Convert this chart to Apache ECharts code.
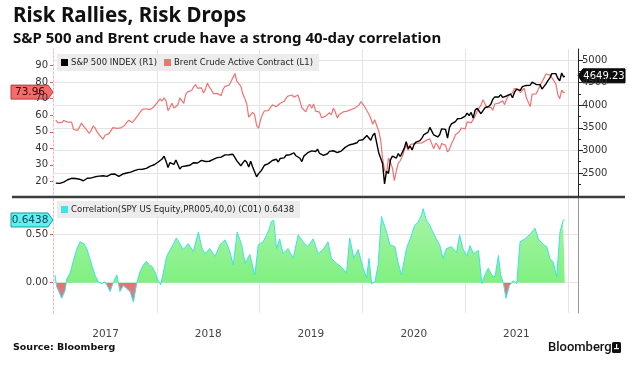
<!DOCTYPE html>
<html><head><meta charset="utf-8">
<script src="https://cdn.jsdelivr.net/npm/echarts@6/dist/echarts.min.js"></script>
<style>html,body{margin:0;padding:0;background:#fff}#c{width:638px;height:366px}</style>
</head><body><div id="c"></div>
<script>
// ---- Data (weekly closes, Fridays from 2017-01-06, last point 2021-12-21) ----
const spxName = 'S&P 500 INDEX (R1)';
const brentName = 'Brent Crude Active Contract (L1)';
const corrName = 'Correlation(SPY US Equity,PR005,40,0) (C01)';

const spx = [
 2277,2275,2271,2295, 2297,2316,2351,2367, 2383,2373,2378,2344,2363, 2355,2329,2349,2384, 2399,2391,2382,2416, 2439,2432,2433,2438,2423, 2425,2459,2472,2472, 2477,2441,2425,2443, 2477,2461,2500,2502,2519, 2549,2553,2575,2581, 2588,2582,2579,2602, 2642,2652,2675,2683,2674,
 2743,2786,2810,2873, 2762,2620,2732,2747, 2691,2786,2752,2588,2641, 2604,2656,2670,2670, 2663,2728,2713,2721, 2735,2779,2780,2755,2718, 2760,2801,2802,2819, 2840,2833,2850,2875,2902, 2872,2905,2930,2914, 2885,2767,2768,2659, 2723,2781,2736,2633,2760, 2633,2600,2417,2486,
 2532,2596,2671,2665, 2707,2708,2776,2793, 2804,2743,2822,2801,2834, 2893,2907,2905,2940, 2946,2881,2860,2826,2752, 2873,2887,2950,2942, 2990,3014,2977,3026, 2932,2919,2889,2847,2926, 2979,3007,2992,2962, 2953,2970,2986,3023, 3067,3093,3120,3110,3141, 3146,3169,3221,3240,
 3235,3265,3330,3295,3226, 3328,3380,3338,2954, 2972,2711,2260,2541, 2489,2790,2875,2837, 2831,2930,2864,2955,3044, 3194,3041,3098,3009, 3130,3185,3225,3216,3271, 3351,3373,3397,3508, 3427,3341,3319,3298, 3348,3477,3484,3465,3270, 3510,3585,3557,3638, 3699,3663,3709,3703,
 3756,3825,3768,3841,3714, 3887,3934,3907,3811, 3842,3943,3913,3975, 4020,4129,4185,4180,4181, 4233,4174,4156,4204, 4230,4247,4166,4281, 4352,4370,4327,4412,4395, 4437,4468,4442,4509, 4535,4459,4433,4455, 4357,4391,4471,4545,4605, 4698,4683,4698,4595, 4538,4712,4621,
 4649.23
];

const brent = [
 57.1,55.5,55.5,55.5, 56.8,56.7,55.8,56.0, 55.9,51.4,51.8,50.8,52.8, 55.2,55.9,52.0,51.7, 49.1,50.8,53.6,52.2, 49.9,48.2,47.4,45.5,47.9, 46.7,48.9,48.1,52.5, 52.4,52.1,52.7,52.4, 52.8,53.8,55.6,56.9,57.5, 55.6,57.2,57.8,60.4, 62.1,63.5,62.7,63.9, 63.7,63.4,63.2,65.3,66.9,
 67.6,69.9,68.6,70.5, 68.6,62.8,64.8,67.3, 64.4,65.5,66.2,70.5,70.3, 67.1,72.6,74.1,74.6, 74.9,77.1,78.5,76.4, 76.8,76.5,73.4,75.6,79.4, 77.1,75.3,73.1,74.3, 73.2,72.8,71.8,75.8,77.4, 76.8,78.1,78.8,82.7, 85.2,80.4,79.8,77.6, 72.8,70.2,66.8,58.8,58.7, 61.7,60.3,53.8,52.2,
 57.1,60.5,62.7,61.6, 62.8,62.1,66.3,67.1, 65.1,65.7,67.2,67.0,68.4, 70.3,71.6,71.9,72.2, 70.9,70.6,72.2,68.7,64.5, 63.3,62.0,65.2,66.6, 64.2,66.7,62.5,63.5, 61.9,58.5,58.6,59.3,60.4, 61.5,60.2,64.3,61.9, 58.4,60.5,59.4,62.0, 61.7,62.5,63.3,63.4,62.4, 64.4,65.2,66.1,68.2,
 68.6,65.0,64.9,60.7,58.2, 54.5,57.3,58.5,50.5, 45.3,33.9,27.0,24.9, 34.1,31.5,28.1,20.5, 26.4,31.0,32.5,35.1,35.3, 42.3,38.7,42.2,41.0, 42.8,43.2,43.1,43.3,43.3, 44.4,44.8,44.4,45.8, 42.7,39.8,43.2,41.9, 39.3,42.9,42.9,41.8,37.9, 39.5,42.8,45.0,48.2, 49.3,50.0,52.3,51.3,
 51.8,56.0,55.1,55.4,55.9, 59.3,62.4,62.9,66.1, 69.4,69.2,64.5,64.6, 64.9,63.0,66.8,66.1,67.3, 68.3,68.7,66.4,69.6, 71.9,72.7,73.5,76.2, 76.2,75.6,73.6,74.1,76.3, 70.7,70.6,65.2,72.7, 72.6,72.9,75.3,78.1, 79.3,82.4,84.9,85.5,84.4, 82.7,82.2,78.9,72.7, 69.9,75.2,73.5,
 73.96
];

const corrDates = [
 '2017-01-03','2017-01-09','2017-01-27','2017-02-08','2017-02-14','2017-02-26','2017-03-09','2017-03-21','2017-04-02','2017-04-08','2017-04-16','2017-04-26','2017-05-05','2017-05-14','2017-05-25','2017-06-06','2017-06-18','2017-06-30','2017-07-06','2017-07-18','2017-07-29','2017-08-11','2017-08-22','2017-09-03','2017-09-15','2017-09-27','2017-10-09','2017-10-21','2017-11-01','2017-11-13','2017-11-25','2017-12-04','2017-12-13','2017-12-25',
 '2018-01-05','2018-01-14','2018-01-23','2018-02-04','2018-02-15','2018-02-27','2018-03-11','2018-03-23','2018-04-04','2018-04-22','2018-05-10','2018-05-28','2018-06-09','2018-06-20','2018-07-08','2018-07-26','2018-08-13','2018-08-31','2018-09-17','2018-09-29','2018-10-13','2018-10-29','2018-11-10','2018-11-27','2018-12-15','2018-12-27',
 '2019-01-13','2019-01-31','2019-02-12','2019-02-20','2019-03-02','2019-03-13','2019-03-25','2019-04-12','2019-04-30','2019-05-18','2019-06-04','2019-06-22','2019-07-10','2019-07-28','2019-08-14','2019-09-01','2019-09-13','2019-10-01','2019-10-19','2019-11-06','2019-11-17','2019-12-02','2019-12-17',
 '2020-01-04','2020-01-16','2020-01-25','2020-02-03','2020-02-15','2020-02-26','2020-03-09','2020-03-27','2020-04-08','2020-04-26','2020-05-07','2020-05-19','2020-06-06','2020-06-24','2020-07-05','2020-07-17','2020-07-29','2020-08-04','2020-08-16','2020-08-28','2020-09-08','2020-09-20','2020-10-02','2020-10-14','2020-10-26','2020-11-13','2020-12-01','2020-12-12','2020-12-24',
 '2021-01-06','2021-01-18','2021-01-30','2021-02-17','2021-03-01','2021-03-12','2021-03-24','2021-04-05','2021-04-17','2021-04-29','2021-05-07','2021-05-17','2021-05-26','2021-06-07','2021-06-21','2021-07-03','2021-07-15','2021-08-02','2021-08-20','2021-09-06','2021-09-18','2021-10-06','2021-10-18','2021-10-29','2021-11-10','2021-11-22','2021-12-04','2021-12-15','2021-12-21'
];
const corrValues = [
 0.08,-0.04,-0.16,-0.08,0.04,0.10,0.22,0.34,0.42,0.44,0.40,0.35,0.27,0.18,0.08,0.01,-0.01,0.01,-0.02,-0.09,0.00,0.08,-0.09,-0.03,-0.06,-0.09,-0.20,0.00,0.11,0.18,0.22,0.18,0.17,0.11,
 0.02,-0.02,0.10,0.27,0.33,0.39,0.46,0.40,0.34,0.40,0.32,0.52,0.36,0.30,0.35,0.27,0.39,0.44,0.32,0.18,0.52,0.39,0.20,0.29,0.08,0.39,
 0.42,0.52,0.63,0.64,0.35,0.45,0.30,0.35,0.25,0.49,0.42,0.37,0.45,0.30,0.34,0.42,0.25,0.20,0.16,0.10,0.46,0.25,0.34,
 0.15,0.05,0.25,-0.01,0.01,0.18,0.68,0.52,0.39,0.37,0.21,0.08,0.35,0.49,0.59,0.62,0.69,0.76,0.64,0.59,0.52,0.45,0.39,0.25,0.35,0.37,0.31,0.49,0.35,
 0.27,0.38,0.30,0.33,-0.01,0.08,0.15,0.08,0.06,0.28,0.08,-0.01,-0.16,-0.03,0.02,-0.01,0.42,0.45,0.50,0.56,0.45,0.39,0.37,0.25,0.21,0.06,0.52,0.64,0.6438
];

const brentTickInterval = 10;
const spxTicks = [2500, 3000, 3500, 4000, 4500, 5000];
const spxMinorTicks = [2250, 2750, 3250, 3750, 4250, 4750];
const corrTicks = [0, 0.5];
const yearLabels = ['2017', '2018', '2019', '2020', '2021'];
const yearStarts = ['2018-01-01', '2019-01-01', '2020-01-01', '2021-01-01', '2022-01-01'];

// ---- Build ----
const DAY = 86400000;
const weekStart = Date.UTC(2017, 0, 6);
const lastDate = Date.UTC(2021, 11, 21);
const dates = spx.map((_, i) => i === spx.length - 1 ? lastDate : weekStart + i * 7 * DAY);
const spxData = spx.map((v, i) => [dates[i], v]);
const brentData = brent.map((v, i) => [dates[i], v]);
const corrData = corrValues.map((v, i) => [Date.parse(corrDates[i]), v]);

const F = 'DejaVu Sans';
const xMin = Date.UTC(2016, 11, 27), xMax = Date.UTC(2022, 1, 6);
const spxMin = 1947, spxMax = 5243;
const corrMin = -0.311, corrMax = 0.859;
const pinkAxis = {show: true, lineStyle: {color: '#f2b4b4', width: 1, type: [2, 2]}};
const redTick = {show: true, length: 3, lineStyle: {color: '#e05a5a'}};
const yearLines = yearStarts.map(d => ({xAxis: Date.parse(d)}));
const gridLineStyle = {color: '#e4e4e4', width: 1, type: 'solid'};

const chart = echarts.init(document.getElementById('c'), null, {renderer: 'canvas'});
const option = {
  backgroundColor: '#fff',
  animation: false,
  textStyle: {fontFamily: F},
  grid: [
    {left: 53, right: 60, top: 49, height: 149},
    {left: 53, right: 60, top: 199, height: 114}
  ],
  xAxis: [
    {type: 'value', gridIndex: 0, min: xMin, max: xMax, show: false, splitLine: {show: false}},
    {type: 'value', gridIndex: 1, min: xMin, max: xMax,
     axisLine: {show: false}, axisTick: {show: false}, splitLine: {show: false},
     axisLabel: {customValues: yearLabels.map(y => Date.UTC(+y, 6, 2)),
                 formatter: v => String(new Date(v).getUTCFullYear()),
                 color: '#444', fontSize: 10.5, margin: 16, fontFamily: F}}
  ],
  yAxis: [
    {type: 'value', gridIndex: 0, position: 'left', min: 10, max: 100, interval: brentTickInterval,
     splitLine: {show: false}, axisLine: pinkAxis, axisTick: redTick,
     axisLabel: {showMinLabel: false, showMaxLabel: false, color: '#333', fontSize: 10, margin: 5, fontFamily: F}},
    {type: 'value', gridIndex: 0, position: 'right', min: spxMin, max: spxMax, splitLine: {show: false},
     axisLine: {show: true, lineStyle: {color: '#222', width: 1}},
     axisTick: {show: true, length: 5, customValues: spxTicks, lineStyle: {color: '#222'}},
     axisLabel: {customValues: spxTicks, formatter: v => String(v), color: '#333', fontSize: 10, margin: 4, fontFamily: F}},
    {type: 'value', gridIndex: 0, position: 'right', min: spxMin, max: spxMax, splitLine: {show: false},
     axisLine: {show: false},
     axisTick: {show: true, length: 3, customValues: spxMinorTicks, lineStyle: {color: '#222'}},
     axisLabel: {show: false}},
    {type: 'value', gridIndex: 1, position: 'left', min: corrMin, max: corrMax, splitLine: {show: false},
     axisLine: pinkAxis,
     axisTick: Object.assign({customValues: corrTicks}, redTick),
     axisLabel: {customValues: corrTicks, formatter: v => v.toFixed(2), color: '#333', fontSize: 10, margin: 5, fontFamily: F}},
    {type: 'value', gridIndex: 1, position: 'right', min: corrMin, max: corrMax, splitLine: {show: false},
     axisLine: {show: true, lineStyle: {color: '#9a9a9a', width: 1}}, axisTick: {show: false}, axisLabel: {show: false}}
  ],
  legend: [
    {data: [spxName, brentName], left: 57, top: 54, backgroundColor: '#ececec', padding: [4, 6, 4, 4],
     itemGap: 7, itemWidth: 7, itemHeight: 7, icon: 'rect', selectedMode: false,
     textStyle: {fontSize: 8.5, color: '#222', fontFamily: F, padding: [0, 0, 0, -2]}},
    {data: [corrName], left: 57, top: 201, backgroundColor: '#ececec', padding: [4, 6, 4, 4],
     itemWidth: 7, itemHeight: 7, icon: 'rect', selectedMode: false,
     formatter: n => n + ' ' + corrValues[corrValues.length - 1],
     textStyle: {fontSize: 8.5, color: '#222', fontFamily: F, padding: [0, 0, 0, -2]}}
  ],
  series: [
    {name: brentName, type: 'line', xAxisIndex: 0, yAxisIndex: 0, data: brentData, symbol: 'none',
     lineStyle: {color: '#f07272', width: 1.2}, itemStyle: {color: '#f07272'}, z: 3},
    {name: spxName, type: 'line', xAxisIndex: 0, yAxisIndex: 1, data: spxData, symbol: 'none',
     lineStyle: {color: '#000', width: 1.4}, itemStyle: {color: '#000'}, z: 4,
     markLine: {silent: true, symbol: 'none', z: 1, animation: false, label: {show: false},
                emphasis: {disabled: true}, lineStyle: gridLineStyle,
                data: spxTicks.map(v => ({yAxis: v})).concat(yearLines)}},
    {name: 'corrArea', type: 'line', xAxisIndex: 1, yAxisIndex: 3, data: corrData, symbol: 'none',
     lineStyle: {width: 0}, areaStyle: {opacity: 1, color: '#93f293'}, z: 2},
    {name: corrName, type: 'line', xAxisIndex: 1, yAxisIndex: 3, data: corrData, symbol: 'none',
     lineStyle: {color: '#3fe2e8', width: 1}, itemStyle: {color: '#3fe2e8'}, z: 3,
     markLine: {silent: true, symbol: 'none', z: 1, animation: false, label: {show: false},
                emphasis: {disabled: true}, lineStyle: gridLineStyle,
                data: corrTicks.map(v => ({yAxis: v})).concat(yearLines)}}
  ]
};
chart.setOption(option);

// ---- area colouring: green above zero, red below (gradient in pixel space from the axis scale) ----
const yTop = chart.convertToPixel({yAxisIndex: 3}, corrMax);
const yBot = chart.convertToPixel({yAxisIndex: 3}, corrMin);
const yZero = chart.convertToPixel({yAxisIndex: 3}, 0);
const fz = (yZero - yTop) / (yBot - yTop);
chart.setOption({series: [{}, {}, {areaStyle: {opacity: 1, color: new echarts.graphic.LinearGradient(0, yTop, 0, yBot, [
  {offset: 0, color: '#aef5ae'}, {offset: fz, color: '#80f080'},
  {offset: fz, color: '#ee6f6f'}, {offset: 1, color: '#b89a9a'}], true)}}, {}]});

// ---- value tags, separator, titles, footer ----
const yBrent = chart.convertToPixel({yAxisIndex: 0}, brent[brent.length - 1]);
const ySpx = chart.convertToPixel({yAxisIndex: 1}, spx[spx.length - 1]);
const yCorr = chart.convertToPixel({yAxisIndex: 3}, corrValues[corrValues.length - 1]);

function leftTag(y, text, fill, stroke, color) {
  return {type: 'group', z: 100, children: [
    {type: 'polygon', shape: {points: [[11, y - 7], [48, y - 7], [53, y], [48, y + 7], [11, y + 7]]},
     style: {fill: fill, stroke: stroke, lineWidth: 1}},
    {type: 'text', style: {text: text, x: 30, y: y + 0.5, align: 'center', verticalAlign: 'middle',
     fill: color, font: '10.5px "DejaVu Sans"'}}
  ]};
}
function rightTag(y, text) {
  return {type: 'group', z: 100, children: [
    {type: 'polygon', shape: {points: [[578, y], [583, y - 7], [625, y - 7], [625, y + 7], [583, y + 7]]},
     style: {fill: '#0c0c0c', stroke: '#000', lineWidth: 1}},
    {type: 'text', style: {text: text, x: 604, y: y + 0.5, align: 'center', verticalAlign: 'middle',
     fill: '#fff', font: '10px "DejaVu Sans"'}}
  ]};
}

chart.setOption({
  graphic: [
    {type: 'line', z: 90, shape: {x1: 12, y1: 197, x2: 625, y2: 197}, style: {stroke: '#3c3c3c', lineWidth: 2.5}},
    leftTag(yBrent, String(brent[brent.length - 1]), '#f26c6c', '#b33a3a', '#3a0505'),
    rightTag(ySpx, String(spx[spx.length - 1])),
    leftTag(yCorr, String(corrValues[corrValues.length - 1]), '#5ff0f0', '#1c9aa0', '#0d4a55'),
    {type: 'text', z: 100, style: {text: 'Risk Rallies, Risk Drops', x: 13, y: 6, verticalAlign: 'top',
      fill: '#111', font: 'bold 20.5px "Noto Sans"'}},
    {type: 'text', z: 100, style: {text: 'S&P 500 and Brent crude have a strong 40-day correlation', x: 13, y: 31,
      verticalAlign: 'top', fill: '#111', font: 'bold 15px "Noto Sans"'}},
    {type: 'text', z: 100, style: {text: 'Source: Bloomberg', x: 13, y: 348, verticalAlign: 'middle',
      fill: '#111', font: 'bold 9.5px "DejaVu Sans"'}},
    {type: 'text', z: 100, style: {text: 'Bloomberg', x: 548, y: 348, verticalAlign: 'middle',
      fill: '#111', font: '500 13px Roboto'}},
    {type: 'rect', z: 100, shape: {x: 612, y: 342, width: 9, height: 11, r: 1.5}, style: {fill: '#111'}},
    {type: 'rect', z: 101, shape: {x: 614, y: 348, width: 5, height: 1.2}, style: {fill: '#fff'}},
    {type: 'rect', z: 101, shape: {x: 616, y: 344, width: 1.2, height: 4}, style: {fill: '#fff'}}
  ]
});
</script>
</body></html>
